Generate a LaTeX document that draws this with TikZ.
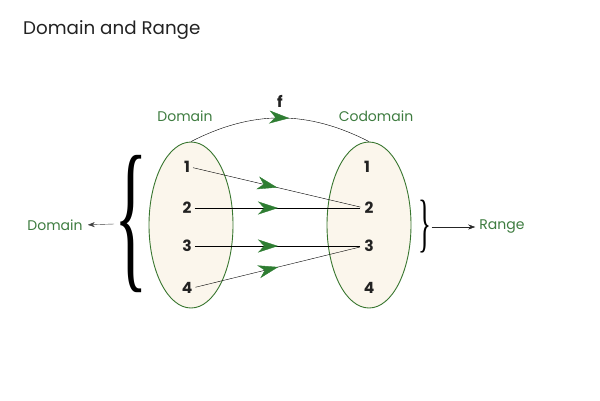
\documentclass[tikz,border=0pt]{standalone}
\usepackage{fontspec}
\setmainfont{Poppins}
\newfontfamily\bracefont{Liberation Serif}
\usepackage{graphicx}
\usepackage{tikz}
\usetikzlibrary{arrows.meta,positioning,calc,shapes.geometric,decorations.markings}
\definecolor{setgreen}{RGB}{56,118,47}
\definecolor{lblgreen}{RGB}{62,124,64}
\definecolor{arrgreen}{RGB}{46,125,50}
\definecolor{setfill}{RGB}{251,246,236}
\definecolor{titlegray}{RGB}{34,34,34}

\begin{document}
\begin{tikzpicture}[x=1pt, y=-1pt, every node/.style={inner sep=0pt},
  num/.style={font=\fontsize{15.5}{15.5}\selectfont\bfseries, text=titlegray},
  lbl/.style={text=lblgreen, font=\fontsize{14}{14}\selectfont},
  setbox/.style={ellipse, draw=setgreen, fill=setfill, line width=0.9pt,
                 minimum width=84pt, minimum height=166pt},
  midarrow/.style={postaction={decorate}, decoration={markings,
      mark=at position #1 with {\arrow{Stealth[length=20pt,width=13pt,inset=6pt,arrgreen]}}}}]
  \useasboundingbox (0,0) rectangle (600,400);
  % Title
  \node[anchor=west, text=titlegray, font=\fontsize{18.3}{18.3}\selectfont] (title) at (23,30) {Domain and Range};
  % The two sets
  \node[setbox] (dom) at (191,225) {};
  \node[setbox] (cod) at (369,225) {};
  \node[lbl] (domlbl) at (185,116) {Domain};
  \node[lbl] (codlbl) at (376,116) {Codomain};
  % Elements
  \node[num] (d1) at (187,167) {1};
  \node[num] (d2) at (187,208) {2};
  \node[num] (d3) at (187,246) {3};
  \node[num] (d4) at (187,288) {4};
  \node[num] (c1) at (367,167) {1};
  \node[num] (c2) at (369,208) {2};
  \node[num] (c3) at (369,246) {3};
  \node[num] (c4) at (369,288) {4};
  % Mapping f
  \draw[thin, midarrow=0.55] (dom.north) to[bend left=27] (cod.north);
  \node[num] (flbl) at (280,101) {f};
  \draw[thin, midarrow=0.5, shorten <=3pt, shorten >=4pt] (d1.east) -- (c2.west);
  \draw[thin, midarrow=0.5, shorten <=3pt, shorten >=4pt] (d2.east) -- (c2.west);
  \draw[thin, midarrow=0.5, shorten <=3pt, shorten >=4pt] (d3.east) -- (c3.west);
  \draw[thin, midarrow=0.5, shorten <=3pt, shorten >=4pt] (d4.east) -- (c3.west);
  % Braces
  \node (lbrace) at (131,224) {\scalebox{0.42}[1]{\bracefont\fontsize{166}{166}\selectfont\{}};
  \node[lbl] (ldom) at (55,225) {Domain};
  \draw[black!75, -{Stealth[length=7pt,width=5pt]}, shorten >=5pt] (lbrace.west) -- (ldom.east);
  \node (rbrace) at (425,227) {\scalebox{0.42}[1]{\bracefont\fontsize{64}{64}\selectfont\}}};
  \node[lbl] (range) at (502,227) {Range};
  \draw[black!85, -{Stealth[length=7pt,width=5pt]}, shorten >=4pt] (rbrace.east) -- (range.west);
\end{tikzpicture}
\end{document}
